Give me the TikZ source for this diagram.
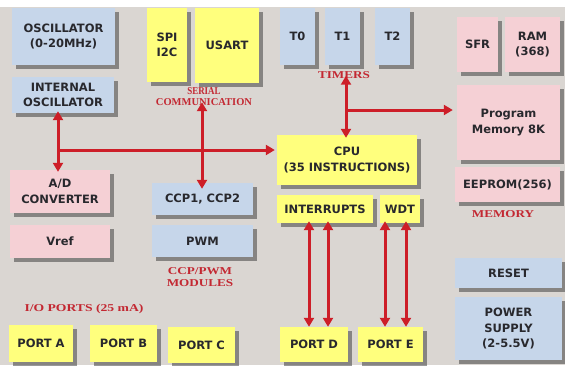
\documentclass[tikz,border=0pt]{standalone}
\usepackage{fontspec}
\usepackage{graphicx}
\usetikzlibrary{arrows.meta,shadows}
\newfontfamily\boxfont{DejaVu Sans}
\newfontfamily\labfont{Liberation Serif}
\definecolor{bgcol}{RGB}{218,214,210}
\definecolor{bluecol}{RGB}{198,214,234}
\definecolor{yelcol}{RGB}{255,255,125}
\definecolor{pinkcol}{RGB}{245,208,213}
\definecolor{txtcol}{RGB}{40,40,45}
\definecolor{labred}{RGB}{195,40,50}
\definecolor{arrred}{RGB}{205,30,40}
\newcommand{\rs}[2]{\scalebox{#1}[1]{#2}}
\tikzset{
  basebox/.style={inner sep=1pt, align=center, text=txtcol,
    font=\boxfont\bfseries\fontsize{11.5}{15.5}\selectfont,
    drop shadow={shadow xshift=3.5pt, shadow yshift=-3.5pt, fill=black!80, opacity=0.5}},
  bluebox/.style={basebox, fill=bluecol},
  yelbox/.style={basebox, fill=yelcol},
  pinkbox/.style={basebox, fill=pinkcol},
  redlab/.style={inner sep=0pt, align=center, text=labred,
    font=\labfont\bfseries\fontsize{10.5}{11}\selectfont},
  arr/.style={draw=arrred, line width=3pt, {Triangle[length=9pt,width=10pt]}-{Triangle[length=9pt,width=10pt]}},
  arrone/.style={draw=arrred, line width=3pt, -{Triangle[length=9pt,width=10pt]}}
}
\begin{document}
\begin{tikzpicture}[x=1pt,y=-1pt]
\useasboundingbox (0,0) rectangle (565,365);
\fill[white] (0,0) rectangle (565,365);
\fill[bgcol] (0,7) rectangle (565,365);
% boxes
\node[bluebox, minimum width=103pt, minimum height=57pt] (osc) at (63.5,36.5) {OSCILLATOR\\(0-20MHz)};
\node[bluebox, minimum width=102pt, minimum height=36pt] (intosc) at (63,95) {INTERNAL\\OSCILLATOR};
\node[yelbox, minimum width=40pt, minimum height=74pt] (spi) at (167,45) {SPI\\I2C};
\node[yelbox, minimum width=64pt, minimum height=75pt] (usart) at (227,45.5) {USART};
\node[bluebox, minimum width=35pt, minimum height=57pt] (t0) at (297.5,36.5) {T0};
\node[bluebox, minimum width=35pt, minimum height=57pt] (t1) at (342.5,36.5) {T1};
\node[bluebox, minimum width=35pt, minimum height=57pt] (t2) at (392.5,36.5) {T2};
\node[pinkbox, minimum width=41pt, minimum height=55pt] (sfr) at (477.5,44.5) {SFR};
\node[pinkbox, minimum width=55pt, minimum height=55pt] (ram) at (532.5,44.5) {RAM\\(368)};
\node[pinkbox, minimum width=103pt, minimum height=75pt] (prog) at (508.5,122.5) {Program\\Memory 8K};
\node[pinkbox, minimum width=105pt, minimum height=35pt] (eeprom) at (507.5,184.5) {EEPROM(256)};
\node[yelbox, minimum width=140pt, minimum height=50pt] (cpu) at (347,160) {CPU\\(35 INSTRUCTIONS)};
\node[yelbox, minimum width=96pt, minimum height=28pt] (intr) at (325,209) {INTERRUPTS};
\node[yelbox, minimum width=40pt, minimum height=28pt] (wdt) at (400,209) {WDT};
\node[pinkbox, minimum width=100pt, minimum height=43pt] (adc) at (60,191.5) {A/D\\CONVERTER};
\node[pinkbox, minimum width=100pt, minimum height=33pt] (vref) at (60,241.5) {Vref};
\node[bluebox, minimum width=101pt, minimum height=32pt] (ccp) at (202.5,199) {CCP1, CCP2};
\node[bluebox, minimum width=101pt, minimum height=32pt] (pwm) at (202.5,241) {PWM};
\node[yelbox, minimum width=64pt, minimum height=37pt] (porta) at (41,343.5) {PORT A};
\node[yelbox, minimum width=67pt, minimum height=37pt] (portb) at (123.5,343.5) {PORT B};
\node[yelbox, minimum width=67pt, minimum height=36pt] (portc) at (201.5,345) {PORT C};
\node[yelbox, minimum width=68pt, minimum height=35pt] (portd) at (314,344.5) {PORT D};
\node[yelbox, minimum width=65pt, minimum height=35pt] (porte) at (390.5,344.5) {PORT E};
\node[bluebox, minimum width=107pt, minimum height=30pt] (reset) at (508.5,273) {RESET};
\node[bluebox, minimum width=107pt, minimum height=63pt] (power) at (508.5,328.5) {POWER\\SUPPLY\\(2-5.5V)};
% red labels
\node[redlab] (serlab) at (204,97) {\rs{0.85}{SERIAL}\\\rs{1.0}{COMMUNICATION}};
\node[redlab] (timlab) at (344,75) {\rs{1.25}{TIMERS}};
\node[redlab] (memlab) at (503,214) {\rs{1.25}{MEMORY}};
\node[redlab, font=\labfont\bfseries\fontsize{10.5}{12}\selectfont] (ccplab) at (200,277) {\rs{1.25}{CCP/PWM}\\\rs{1.25}{MODULES}};
\node[redlab] (iolab) at (84,309) {\rs{1.3}{I/O PORTS (25 mA)}};
% connectors
\coordinate (j1) at (58,150);
\coordinate (j2) at (346,110);
\draw[arr] ([yshift=2pt]intosc.south -| j1) -- ([yshift=-2pt]adc.north -| j1);
\draw[arrone] (j1) -- ([xshift=-2pt]cpu.west |- j1);
\draw[arr] ([yshift=4pt]serlab.south -| 202,0) -- ([yshift=-6pt]ccp.north -| 202,0);
\draw[arr] ([yshift=3pt]timlab.south -| j2) -- ([yshift=-3pt]cpu.north -| j2);
\draw[arrone] (j2) -- ([xshift=-4pt]prog.west |- j2);
\foreach \xx in {309,328}{
  \draw[arr] ([yshift=2pt]intr.south -| \xx,0) -- (portd.north -| \xx,0);
}
\foreach \xx in {385,406}{
  \draw[arr] ([yshift=2pt]wdt.south -| \xx,0) -- (porte.north -| \xx,0);
}
\end{tikzpicture}
\end{document}
